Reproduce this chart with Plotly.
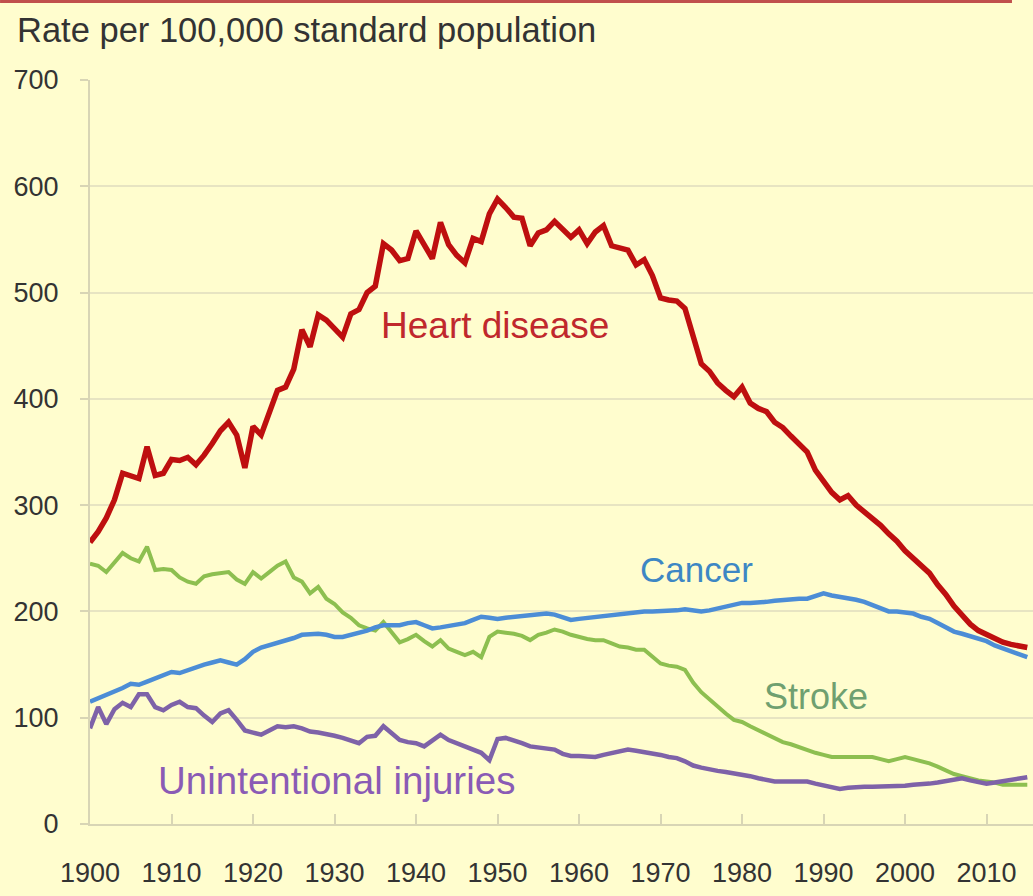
import plotly.graph_objects as go

years = list(range(1900, 2016))

heart_disease = [
    265, 275, 288, 305, 330, 328, 325, 355, 328, 330,
    343, 342, 345, 338, 347, 358, 370, 378, 366, 335,
    374, 366, 388, 408, 411, 428, 465, 449, 479, 474,
    466, 458, 480, 484, 500, 506, 546, 540, 530, 532,
    558, 545, 532, 566, 545, 535, 528, 551, 548, 574,
    588, 580, 571, 570, 544, 556, 559, 567, 560, 552,
    559, 546, 557, 563, 544, 542, 540, 526, 531, 516,
    495, 493, 492, 485, 460, 433, 426, 415, 408, 402,
    411, 396, 391, 388, 378, 373, 365, 358, 350, 333,
    322, 312, 305, 309, 300, 294, 288, 281, 273, 266,
    257, 250, 242, 236, 225, 216, 205, 197, 188, 182,
    178, 174, 171, 169, 168, 166,
]

cancer = [
    115, 118, 121, 125, 128, 132, 131, 134, 137, 140,
    143, 142, 145, 148, 150, 152, 154, 152, 150, 155,
    162, 166, 168, 170, 172, 175, 178, 179, 179, 178,
    176, 176, 178, 179, 182, 185, 187, 187, 187, 189,
    190, 187, 184, 185, 186, 187, 189, 192, 195, 194,
    193, 194, 195, 196, 197, 197, 198, 197, 195, 192,
    193, 194, 195, 195, 196, 197, 198, 199, 200, 200,
    200, 201, 201, 202, 201, 200, 201, 203, 204, 206,
    208, 208, 208, 209, 210, 211, 211, 212, 212, 214,
    217, 215, 214, 212, 211, 209, 206, 203, 200, 200,
    199, 198, 195, 193, 189, 185, 181, 179, 177, 175,
    172, 168, 165, 162, 160, 157,
]

stroke = [
    245, 243, 237, 246, 255, 250, 247, 261, 239, 240,
    239, 232, 228, 226, 233, 235, 236, 237, 230, 226,
    237, 231, 237, 243, 247, 232, 228, 217, 223, 212,
    207, 199, 194, 187, 184, 182, 190, 180, 171, 174,
    178, 172, 167, 173, 165, 162, 159, 162, 157, 176,
    181, 180, 179, 177, 173, 178, 180, 183, 181, 178,
    176, 174, 173, 173, 170, 167, 166, 164, 164, 157,
    151, 149, 148, 145, 133, 124, 117, 110, 104, 98,
    96, 92, 88, 85, 81, 77, 75, 72, 70, 67,
    65, 63, 63, 63, 63, 63, 63, 61, 59, 61,
    63, 61, 59, 57, 54, 50, 47, 45, 43, 41,
    40, 39, 37, 37, 37, 37,
]

unintentional_injuries = [
    90, 110, 94, 108, 114, 110, 122, 122, 110, 107,
    112, 115, 110, 109, 102, 96, 104, 107, 98, 88,
    86, 84, 88, 92, 91, 92, 90, 87, 86, 85,
    83, 81, 78, 76, 82, 83, 92, 85, 79, 77,
    76, 73, 78, 84, 79, 76, 73, 70, 67, 60,
    80, 81, 79, 76, 73, 72, 71, 70, 66, 64,
    64, 63, 63, 65, 67, 68, 70, 69, 68, 67,
    65, 63, 62, 59, 55, 53, 51, 50, 49, 48,
    47, 45, 43, 41, 40, 40, 40, 40, 40, 38,
    36, 35, 33, 34, 35, 35, 35, 35, 35, 36,
    36, 37, 37, 38, 39, 40, 41, 43, 41, 39,
    38, 39, 40, 41, 42, 44,
]

x_ticks = list(range(1900, 2011, 10))
y_ticks = list(range(0, 701, 100))

FONT = "Liberation Sans, Arial, sans-serif"
BG = "#FFFDCE"
GRID = "#E7E4C2"
AXIS = "#D8D5B5"

fig = go.Figure()
series = [
    ("Stroke", stroke, "#8DBF50", 4),
    ("Unintentional injuries", unintentional_injuries, "#7E62A8", 4.5),
    ("Cancer", cancer, "#4C8DD6", 4.5),
    ("Heart disease", heart_disease, "#BE0F0F", 5.5),
]
for name, vals, col, w in series:
    fig.add_trace(go.Scatter(x=years, y=vals, mode="lines", name=name,
                             line=dict(color=col, width=w), showlegend=False))

labels = [
    ("Heart disease", 1949.7, 469, "#C0282D", 37),
    ("Cancer", 1974.4, 239, "#3D87C4", 35),
    ("Stroke", 1989.1, 119.5, "#6FA070", 36),
    ("Unintentional injuries", 1930.2, 41, "#8A5BB5", 38.5),
]
for txt, lx, ly, col, sz in labels:
    fig.add_annotation(x=lx, y=ly, text=txt, showarrow=False,
                       font=dict(family=FONT, size=sz, color=col),
                       xanchor="center", yanchor="middle")

fig.add_annotation(xref="paper", yref="paper", x=-0.0795, y=1.067,
                   text="Rate per 100,000 standard population", showarrow=False,
                   xanchor="left", yanchor="middle",
                   font=dict(family=FONT, size=34.5, color="#333333"))

fig.add_shape(type="line", xref="paper", yref="paper",
              x0=-0.0954, x1=0.9777, y0=1.1055, y1=1.1055,
              line=dict(color="#C0504D", width=3))

fig.update_layout(
    width=1033, height=896,
    margin=dict(l=90, r=0, t=80, b=72),
    paper_bgcolor=BG, plot_bgcolor=BG,
    xaxis=dict(range=[1900, 2015.7], tickvals=x_ticks, showgrid=False,
               showline=True, linecolor=AXIS, linewidth=2,
               ticks="inside", ticklen=10, tickcolor=AXIS, tickwidth=2,
               ticklabelstandoff=24,
               tickfont=dict(family=FONT, size=27, color="#333333"),
               zeroline=False),
    yaxis=dict(range=[0, 700], tickvals=y_ticks, showgrid=True,
               gridcolor=GRID, gridwidth=2,
               showline=True, linecolor=AXIS, linewidth=2,
               ticks="outside", ticklen=8, tickcolor=AXIS, tickwidth=2,
               ticklabelstandoff=16,
               tickfont=dict(family=FONT, size=27, color="#333333"),
               zeroline=False),
)

fig.write_html(
    "out.html",
    config={"displayModeBar": False},
    post_script="document.body.style.margin='0';"
                "document.body.style.backgroundColor='#FFFDCE';",
)
